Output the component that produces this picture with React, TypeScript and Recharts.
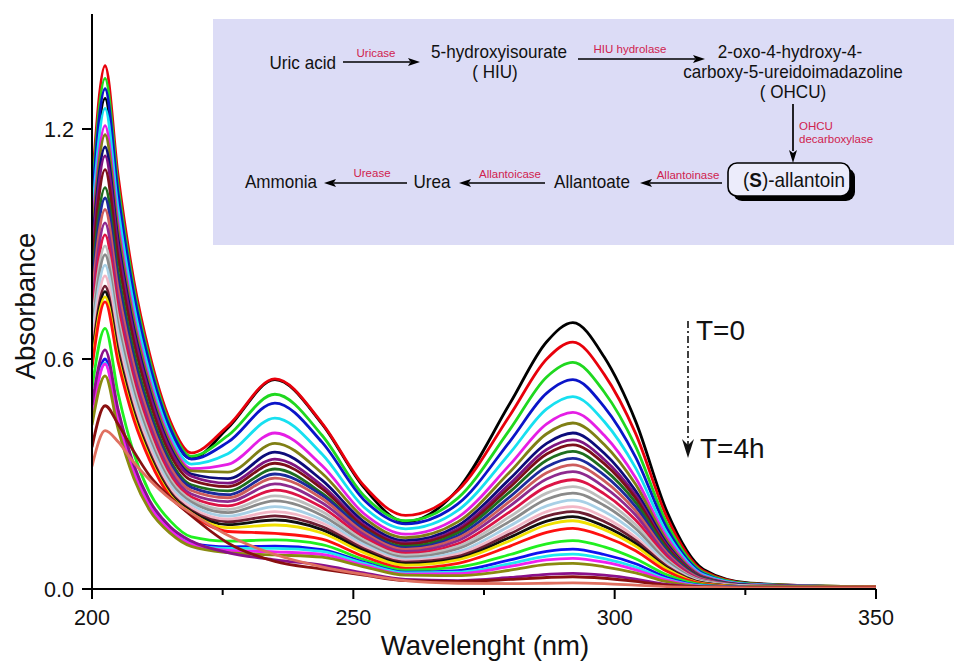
import React from 'react';
import { LineChart, Line, XAxis, YAxis } from 'recharts';

// Wavelength grid (nm)
const wavelengths = [200, 202.5, 205, 208, 211, 215, 219, 226, 235, 244, 252, 260, 270, 280, 287, 292, 298, 304, 310, 317, 326, 350];

// Absorbance spectra, T=0 first, T=4h last
const t00 = [0.99, 1.28, 1.01, 0.755, 0.576, 0.41, 0.34, 0.42, 0.546, 0.431, 0.265, 0.175, 0.26, 0.485, 0.645, 0.695, 0.605, 0.438, 0.202, 0.051, 0.015, 0.005];
const t01 = [1.05, 1.365, 1.078, 0.805, 0.614, 0.437, 0.355, 0.425, 0.548, 0.433, 0.27, 0.192, 0.257, 0.454, 0.6, 0.644, 0.56, 0.406, 0.187, 0.047, 0.014, 0.005];
const t02 = [1.026, 1.332, 1.052, 0.786, 0.599, 0.426, 0.346, 0.4, 0.508, 0.401, 0.244, 0.178, 0.237, 0.417, 0.553, 0.591, 0.514, 0.372, 0.171, 0.043, 0.013, 0.005];
const t03 = [1.005, 1.305, 1.031, 0.77, 0.587, 0.418, 0.339, 0.383, 0.485, 0.383, 0.233, 0.17, 0.222, 0.386, 0.511, 0.546, 0.475, 0.344, 0.158, 0.04, 0.012, 0.005];
const t04 = [0.966, 1.254, 0.991, 0.74, 0.564, 0.401, 0.326, 0.353, 0.446, 0.352, 0.214, 0.157, 0.205, 0.355, 0.47, 0.502, 0.437, 0.316, 0.146, 0.037, 0.012, 0.005];
const t05 = [0.931, 1.209, 0.955, 0.713, 0.544, 0.387, 0.314, 0.325, 0.407, 0.322, 0.197, 0.143, 0.187, 0.325, 0.431, 0.461, 0.401, 0.29, 0.134, 0.034, 0.011, 0.005];
const t06 = [0.912, 1.185, 0.936, 0.699, 0.533, 0.379, 0.308, 0.305, 0.38, 0.302, 0.186, 0.134, 0.175, 0.306, 0.405, 0.433, 0.377, 0.273, 0.126, 0.032, 0.01, 0.005];
const t07 = [0.888, 1.153, 0.911, 0.68, 0.519, 0.369, 0.3, 0.288, 0.357, 0.284, 0.176, 0.126, 0.165, 0.288, 0.38, 0.407, 0.354, 0.256, 0.118, 0.03, 0.01, 0.005];
const t08 = [0.87, 1.13, 0.893, 0.667, 0.509, 0.362, 0.294, 0.276, 0.339, 0.27, 0.168, 0.12, 0.157, 0.275, 0.364, 0.389, 0.338, 0.245, 0.113, 0.029, 0.009, 0.005];
const t09 = [0.842, 1.094, 0.864, 0.645, 0.492, 0.35, 0.284, 0.267, 0.328, 0.262, 0.163, 0.117, 0.152, 0.266, 0.352, 0.376, 0.327, 0.237, 0.109, 0.028, 0.009, 0.005];
const t10 = [0.806, 1.047, 0.827, 0.618, 0.471, 0.335, 0.272, 0.256, 0.313, 0.25, 0.156, 0.111, 0.146, 0.254, 0.336, 0.359, 0.312, 0.226, 0.104, 0.027, 0.009, 0.005];
const t11 = [0.785, 1.02, 0.806, 0.602, 0.459, 0.326, 0.265, 0.246, 0.3, 0.245, 0.155, 0.107, 0.139, 0.241, 0.319, 0.341, 0.297, 0.215, 0.099, 0.026, 0.009, 0.005];
const t12 = [0.762, 0.99, 0.782, 0.584, 0.446, 0.317, 0.257, 0.238, 0.289, 0.236, 0.148, 0.103, 0.133, 0.229, 0.303, 0.324, 0.282, 0.204, 0.094, 0.025, 0.008, 0.005];
const t13 = [0.735, 0.955, 0.754, 0.563, 0.43, 0.306, 0.248, 0.228, 0.274, 0.225, 0.142, 0.098, 0.126, 0.217, 0.287, 0.306, 0.266, 0.193, 0.089, 0.023, 0.008, 0.005];
const t14 = [0.711, 0.924, 0.73, 0.545, 0.416, 0.296, 0.24, 0.217, 0.258, 0.213, 0.135, 0.093, 0.118, 0.202, 0.267, 0.285, 0.248, 0.18, 0.083, 0.022, 0.008, 0.005];
const t15 = [0.689, 0.895, 0.707, 0.528, 0.403, 0.286, 0.233, 0.207, 0.243, 0.202, 0.128, 0.088, 0.111, 0.189, 0.25, 0.267, 0.232, 0.168, 0.077, 0.021, 0.008, 0.005];
const t16 = [0.671, 0.872, 0.689, 0.514, 0.392, 0.279, 0.227, 0.199, 0.23, 0.192, 0.122, 0.083, 0.105, 0.177, 0.234, 0.25, 0.218, 0.158, 0.073, 0.02, 0.007, 0.005];
const t17 = [0.651, 0.845, 0.668, 0.499, 0.38, 0.27, 0.22, 0.19, 0.215, 0.181, 0.116, 0.078, 0.097, 0.165, 0.217, 0.232, 0.202, 0.146, 0.067, 0.018, 0.007, 0.005];
const t18 = [0.629, 0.817, 0.645, 0.482, 0.368, 0.261, 0.212, 0.182, 0.202, 0.172, 0.11, 0.074, 0.091, 0.153, 0.202, 0.215, 0.187, 0.135, 0.062, 0.017, 0.007, 0.005];
const t19 = [0.608, 0.79, 0.624, 0.466, 0.356, 0.253, 0.205, 0.175, 0.191, 0.163, 0.105, 0.07, 0.085, 0.144, 0.19, 0.202, 0.176, 0.127, 0.059, 0.016, 0.006, 0.005];
const t20 = [0.598, 0.776, 0.613, 0.458, 0.349, 0.248, 0.202, 0.168, 0.18, 0.155, 0.1, 0.066, 0.08, 0.135, 0.177, 0.189, 0.164, 0.119, 0.055, 0.015, 0.006, 0.005];
const t21 = [0.587, 0.762, 0.602, 0.45, 0.343, 0.244, 0.198, 0.16, 0.167, 0.146, 0.095, 0.062, 0.076, 0.126, 0.167, 0.178, 0.155, 0.112, 0.052, 0.014, 0.006, 0.005];
const t22 = [0.577, 0.749, 0.592, 0.442, 0.337, 0.24, 0.195, 0.15, 0.145, 0.13, 0.085, 0.054, 0.067, 0.112, 0.148, 0.158, 0.137, 0.1, 0.046, 0.013, 0.005, 0.005];
const t23 = [0.524, 0.68, 0.51, 0.354, 0.252, 0.177, 0.136, 0.125, 0.128, 0.116, 0.077, 0.049, 0.057, 0.09, 0.118, 0.126, 0.11, 0.079, 0.037, 0.011, 0.005, 0.004];
const t24 = [0.462, 0.6, 0.45, 0.312, 0.222, 0.156, 0.12, 0.11, 0.112, 0.103, 0.07, 0.044, 0.048, 0.076, 0.098, 0.104, 0.09, 0.066, 0.03, 0.009, 0.005, 0.004];
const t25 = [0.454, 0.59, 0.443, 0.307, 0.218, 0.153, 0.118, 0.106, 0.106, 0.098, 0.067, 0.042, 0.044, 0.066, 0.086, 0.091, 0.079, 0.057, 0.026, 0.008, 0.004, 0.004];
const t26 = [0.452, 0.587, 0.44, 0.305, 0.217, 0.153, 0.117, 0.101, 0.097, 0.09, 0.062, 0.039, 0.04, 0.059, 0.076, 0.08, 0.07, 0.05, 0.023, 0.007, 0.004, 0.004];
const t27 = [0.428, 0.556, 0.417, 0.289, 0.206, 0.145, 0.111, 0.095, 0.089, 0.083, 0.058, 0.036, 0.035, 0.049, 0.064, 0.067, 0.058, 0.042, 0.019, 0.006, 0.004, 0.004];
const t28 = [0.48, 0.624, 0.468, 0.324, 0.231, 0.162, 0.125, 0.095, 0.076, 0.062, 0.042, 0.025, 0.022, 0.03, 0.038, 0.041, 0.036, 0.026, 0.012, 0.005, 0.004, 0.004];
const t29 = [0.37, 0.478, 0.43, 0.359, 0.296, 0.239, 0.191, 0.12, 0.072, 0.052, 0.036, 0.022, 0.02, 0.025, 0.03, 0.032, 0.028, 0.02, 0.01, 0.005, 0.004, 0.004];
const t30 = [0.32, 0.413, 0.384, 0.33, 0.285, 0.235, 0.198, 0.14, 0.09, 0.058, 0.038, 0.022, 0.015, 0.014, 0.015, 0.016, 0.014, 0.01, 0.006, 0.004, 0.003, 0.003];

const spectra = [t00, t01, t02, t03, t04, t05, t06, t07, t08, t09, t10, t11, t12, t13, t14, t15, t16, t17, t18, t19, t20, t21, t22, t23, t24, t25, t26, t27, t28, t29, t30];

const colors = ['#000000', '#e8000b', '#1fd81f', '#0a14c8', '#17e0f0', '#e51ee5', '#7f7f14', '#0c0c7a', '#7e1480', '#7d0f1a', '#1e6e1e', '#1c2a9c', '#cd5c5c', '#8e2a8e', '#dc1446', '#bdbdbd', '#8a8a8a', '#a8d0e6', '#f2b6c6', '#6e1e32', '#111111', '#f0e000', '#ff1010', '#20f020', '#1010f0', '#20e8f0', '#f020f0', '#8a8a10', '#8a108a', '#8a1010', '#e07060'];

const xTicks = [200, 225, 250, 275, 300, 325, 350];
const xMajor = [200, 250, 300, 350];
const yTicks = [0, 0.6, 1.2];

const data = wavelengths.map((w, k) => {
  const row: Record<string, number> = { w };
  spectra.forEach((s, i) => { row['s' + i] = s[k]; });
  return row;
});

const FONT = '"Liberation Sans", Arial, Helvetica, sans-serif';
const ENZ = '#d0224e';

const XTick = (props: any) => {
  const { x, y, payload } = props;
  const major = xMajor.includes(payload.value);
  return (
    <g>
      <line x1={x} y1={y} x2={x} y2={y + (major ? 10 : 6)} stroke="#000" strokeWidth={2} />
      {major && (
        <text x={x} y={y + 36} textAnchor="middle" fontSize={21.5} fontFamily={FONT} fill="#111">
          {payload.value}
        </text>
      )}
    </g>
  );
};

// Narrow text (scheme uses a condensed face)
const N = ({ x, y, anchor = 'middle', size = 18, fill = '#111', sx = 0.95, children }: any) => (
  <g transform={`translate(${x},${y}) scale(${sx},1)`}>
    <text x={0} y={0} textAnchor={anchor} fontSize={size} fill={fill}>{children}</text>
  </g>
);

const HArrow = ({ x1, x2, y }: { x1: number; x2: number; y: number }) => {
  const dir = x2 > x1 ? 1 : -1;
  const hx = x2 - dir * 12;
  return (
    <g>
      <line x1={x1} y1={y} x2={hx + dir * 2} y2={y} stroke="#000" strokeWidth={1.7} />
      <polygon points={`${x2},${y} ${hx},${y - 4} ${hx + dir * 2.5},${y} ${hx},${y + 4}`} fill="#000" />
    </g>
  );
};

const Overlay = () => (
  <svg width={954} height={664} style={{ position: 'absolute', left: 0, top: 0, pointerEvents: 'none' }} fontFamily={FONT}>
    {/* axis titles */}
    <text transform="translate(25,306) rotate(-90)" textAnchor="middle" dominantBaseline="central" fontSize={27.5} fill="#111">Absorbance</text>
    <text x={485} y={655} textAnchor="middle" fontSize={27.5} fill="#111">Wavelenght (nm)</text>

    {/* time arrow */}
    <line x1={688} y1={321} x2={688} y2={446} stroke="#111" strokeWidth={1.6} strokeDasharray="7 3 2 3" />
    <polygon points="688,458 682,439 688,445 694,439" fill="#111" />
    <text x={696} y={340} fontSize={28} fill="#111">T=0</text>
    <text x={700} y={458} fontSize={28} fill="#111">T=4h</text>

    {/* inset scheme */}
    <rect x={213} y={19} width={741} height={226} fill="#dcdcf6" />
    <N x={336} y={69} anchor="end">Uric acid</N>
    <HArrow x1={343} x2={420} y={62} />
    <N x={376} y={57} size={11.5} fill={ENZ} sx={1}>Uricase</N>
    <N x={499} y={58}>5-hydroxyisourate</N>
    <N x={495} y={78}>( HIU)</N>
    <HArrow x1={578} x2={705} y={59} />
    <N x={630} y={53} size={11.5} fill={ENZ} sx={1}>HIU hydrolase</N>
    <N x={790} y={58}>2-oxo-4-hydroxy-4-</N>
    <N x={793} y={78}>carboxy-5-ureidoimadazoline</N>
    <N x={793} y={98}>( OHCU)</N>
    <line x1={793} y1={104} x2={793} y2={151} stroke="#000" strokeWidth={1.7} />
    <polygon points="793,163 789,150 793,153 797,150" fill="#000" />
    <N x={799} y={130} size={11.5} fill={ENZ} sx={1} anchor="start">OHCU</N>
    <N x={799} y={143} size={11.5} fill={ENZ} sx={1} anchor="start">decarboxylase</N>
    <rect x={733} y={168} width={122} height={33} rx={9} fill="#000" />
    <rect x={728} y={163} width={122} height={33} rx={9} fill="#ececfb" stroke="#000" strokeWidth={1.6} />
    <g transform="translate(794,187) scale(0.9,1)">
      <text x={0} y={0} textAnchor="middle" fontSize={21} fill="#111">
        (<tspan fontWeight="bold">S</tspan>)-allantoin
      </text>
    </g>
    <HArrow x1={722} x2={640} y={183} />
    <N x={688} y={179} size={11.5} fill={ENZ} sx={1}>Allantoinase</N>
    <N x={592} y={188}>Allantoate</N>
    <HArrow x1={545} x2={459} y={183} />
    <N x={510} y={178} size={11.5} fill={ENZ} sx={1}>Allantoicase</N>
    <N x={432} y={188}>Urea</N>
    <HArrow x1={407} x2={324} y={183} />
    <N x={372} y={177} size={11.5} fill={ENZ} sx={1}>Urease</N>
    <N x={281} y={188}>Ammonia</N>
  </svg>
);

export default function App() {
  return (
    <div style={{ position: 'absolute', left: 0, top: 0, width: 954, height: 664, background: '#fff', overflow: 'hidden' }}>
      <LineChart width={954} height={664} data={data} margin={{ top: 14, right: 78, bottom: 0, left: 0 }}>
        <XAxis
          dataKey="w"
          type="number"
          domain={[200, 350]}
          ticks={xTicks}
          interval={0}
          height={75}
          tickLine={false}
          tickSize={0}
          tickMargin={0}
          tick={<XTick />}
          axisLine={{ stroke: '#000', strokeWidth: 2 }}
          allowDataOverflow
        />
        <YAxis
          type="number"
          domain={[0, 1.5]}
          ticks={yTicks}
          width={92}
          tickSize={10}
          tickMargin={8}
          tickFormatter={(v: number) => v.toFixed(1)}
          tick={{ fontSize: 21.5, fontFamily: FONT, fill: '#111' }}
          tickLine={{ stroke: '#000', strokeWidth: 2 }}
          axisLine={{ stroke: '#000', strokeWidth: 2 }}
          allowDataOverflow
        />
        {spectra.map((_, i) => (
          <Line
            key={i}
            dataKey={'s' + i}
            type="monotone"
            stroke={colors[i]}
            strokeWidth={2.8}
            dot={false}
            activeDot={false}
            isAnimationActive={false}
          />
        ))}
      </LineChart>
      <Overlay />
    </div>
  );
}
